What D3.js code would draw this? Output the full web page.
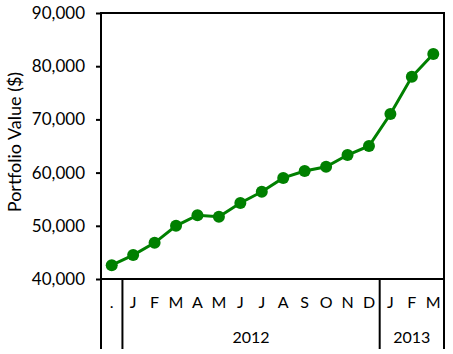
<!DOCTYPE html>
<html>
<head>
<meta charset="utf-8">
<script src="https://d3js.org/d3.v7.min.js"></script>
<style>
  body { margin: 0; background: #fff; overflow: hidden; }
  svg { display: block; }
  text { font-family: Lato, "Open Sans", sans-serif; fill: #000; }
  .tick-label { font-size: 17px; }
  .month { font-size: 16px; }
  .year { font-size: 16px; }
  .y-title { font-size: 18px; }
</style>
</head>
<body>
<div id="chart"></div>
<script>
// Data
const months = [".", "J", "F", "M", "A", "M", "J", "J", "A", "S", "O", "N", "D", "J", "F", "M"];
const values = [42600, 44500, 46800, 50000, 52000, 51700, 54300, 56400, 59000, 60300, 61100, 63300, 65000, 71000, 78000, 82300];
const groups = ["", "2012", "2013"];
const groupSizes = [1, 12, 3];
const yTicks = [40000, 50000, 60000, 70000, 80000, 90000];

const width = 453, height = 354;
const margin = { top: 13, right: 9, bottom: 75, left: 101 };
const innerWidth = width - margin.left - margin.right;
const innerHeight = height - margin.top - margin.bottom;

const svg = d3.select("#chart").append("svg")
  .attr("width", width)
  .attr("height", height);

const g = svg.append("g")
  .attr("transform", `translate(${margin.left},${margin.top})`);

const idx = d3.range(months.length);
const x = d3.scaleBand().domain(idx).range([0, innerWidth]);
const y = d3.scaleLinear().domain([40000, 90000]).range([innerHeight, 0]);

// y axis
const yAxis = d3.axisLeft(y)
  .tickValues(yTicks)
  .tickSize(5)
  .tickPadding(11)
  .tickFormat(d3.format(","));

const yG = g.append("g").call(yAxis);
yG.select(".domain").remove();
yG.selectAll(".tick line").attr("stroke", "#000").attr("stroke-width", 2);
yG.selectAll(".tick text").attr("class", "tick-label");

// frame
g.append("rect")
  .attr("x", 0).attr("y", 0)
  .attr("width", innerWidth).attr("height", innerHeight)
  .attr("fill", "none").attr("stroke", "#000").attr("stroke-width", 2);

// category lines below the axis
const bottomExt = 70;
let cum = 0;
const bounds = [0];
groupSizes.forEach(s => { cum += s; bounds.push(cum); });
bounds.forEach(b => {
  const xp = b < months.length ? x(b) : innerWidth;
  g.append("line")
    .attr("x1", xp).attr("x2", xp)
    .attr("y1", innerHeight).attr("y2", innerHeight + bottomExt)
    .attr("stroke", "#000").attr("stroke-width", 2);
});

// month labels
g.selectAll(".month")
  .data(months)
  .join("text")
  .attr("class", "month")
  .attr("x", (d, i) => x(i) + x.bandwidth() / 2)
  .attr("y", innerHeight + 29)
  .attr("text-anchor", "middle")
  .text(d => d);

// year labels
groups.forEach((gname, i) => {
  const start = bounds[i], end = bounds[i + 1];
  const x0 = x(start);
  const x1 = end < months.length ? x(end) : innerWidth;
  g.append("text")
    .attr("class", "year")
    .attr("x", (x0 + x1) / 2)
    .attr("y", innerHeight + 64)
    .attr("text-anchor", "middle")
    .text(gname);
});

// y title
svg.append("text")
  .attr("class", "y-title")
  .attr("transform", `translate(21,142) rotate(-90)`)
  .attr("text-anchor", "middle")
  .text("Portfolio Value ($)");

// line
const line = d3.line()
  .x((d, i) => x(i) + x.bandwidth() / 2)
  .y(d => y(d));

g.append("path")
  .datum(values)
  .attr("d", line)
  .attr("fill", "none")
  .attr("stroke", "#008000")
  .attr("stroke-width", 3);

g.selectAll(".dot")
  .data(values)
  .join("circle")
  .attr("class", "dot")
  .attr("cx", (d, i) => x(i) + x.bandwidth() / 2)
  .attr("cy", d => y(d))
  .attr("r", 6)
  .attr("fill", "#008000");
</script>
</body>
</html>
